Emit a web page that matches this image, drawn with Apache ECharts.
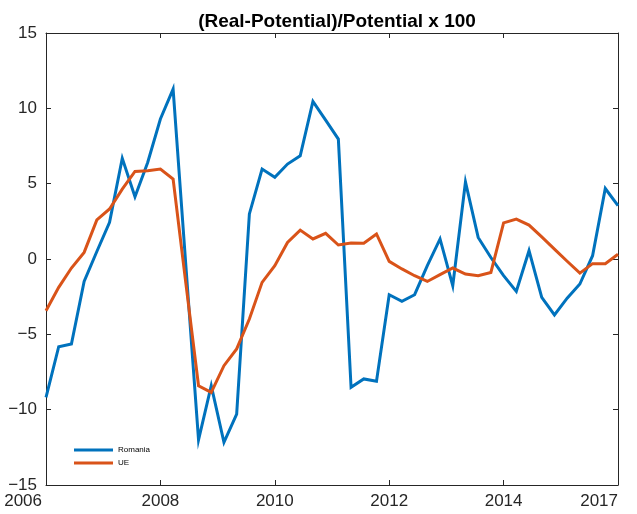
<!DOCTYPE html>
<html>
<head>
<meta charset="utf-8">
<script src="https://cdn.jsdelivr.net/npm/echarts@6/dist/echarts.min.js"></script>
<style>
  html, body { margin: 0; padding: 0; background: #fff; }
  #chart { width: 637px; height: 514px; }
</style>
</head>
<body>
<div id="chart"></div>
<script>
// Quarterly output gap, index 0 = first quarter of 2006
const romania = [
  -9.18, -5.82, -5.64, -1.49, 0.5, 2.43, 6.68, 4.13, 6.41, 9.29,
  11.28, -0.4, -12.01, -8.41, -12.17, -10.29, 2.99, 5.97, 5.42, 6.30,
  6.85, 10.46, 9.22, 7.96, -8.52, -7.96, -8.12, -2.37, -2.81, -2.37,
  -0.44, 1.33, -1.77, 5.11, 1.43, 0.1, -1.1, -2.15, 0.55, -2.55,
  -3.71, -2.6, -1.66, 0.22, 4.68, 3.54
];
const ue = [
  -3.43, -1.88, -0.6, 0.44, 2.59, 3.32, 4.64, 5.81, 5.86, 5.97,
  5.31, -1.6, -8.41, -8.85, -7.08, -5.97, -3.98, -1.55, -0.44, 1.1,
  1.92, 1.33, 1.7, 0.93, 1.06, 1.04, 1.66, -0.16, -0.66, -1.11,
  -1.49, -1.04, -0.6, -1.0, -1.11, -0.89, 2.4, 2.65, 2.25, 1.47,
  0.66, -0.15, -0.94, -0.31, -0.31, 0.31
];
// Year labels shown at every ninth quarter
const tickLabels = ['2006', '2008', '2010', '2012', '2014', '2017'];
const tickStep = 9;

const toPairs = arr => arr.map((v, i) => [i, v]);

const axisColor = '#262626';
const fontFamily = '"Liberation Sans", Arial, sans-serif';

const chart = echarts.init(document.getElementById('chart'), null, { renderer: 'canvas' });
chart.setOption({
  animation: false,
  backgroundColor: '#ffffff',
  title: {
    text: '(Real-Potential)/Potential x 100',
    left: 332,
    textAlign: 'center',
    top: 7,
    textStyle: { fontFamily, fontSize: 19, fontWeight: 'bold', color: '#000' }
  },
  grid: { left: 46, right: 19, top: 33, bottom: 29, containLabel: false },
  legend: {
    orient: 'vertical',
    left: 69,
    top: 440,
    icon: 'rect',
    itemWidth: 39,
    itemHeight: 3,
    itemGap: 3,
    textStyle: { fontFamily, fontSize: 8, lineHeight: 10, color: '#000' },
    data: ['Romania', 'UE']
  },
  xAxis: [
    {
      type: 'value', min: 0, max: 45, interval: tickStep, position: 'bottom',
      axisLine: { show: true, onZero: false, lineStyle: { color: axisColor, width: 1 } },
      axisTick: { show: true, inside: true, length: 5, lineStyle: { color: axisColor } },
      splitLine: { show: false },
      axisLabel: {
        margin: 8, fontFamily, fontSize: 17, color: axisColor,
        alignMinLabel: 'right', alignMaxLabel: 'right',
        formatter: v => {
          const idx = Math.round(v / tickStep);
          return idx === 0 ? '{first|' + tickLabels[0] + '}' : (tickLabels[idx] || '');
        },
        rich: { first: { fontFamily, fontSize: 17, color: axisColor, padding: [0, 4, 0, 0] } }
      }
    },
    {
      type: 'value', min: 0, max: 45, interval: tickStep, position: 'top',
      axisLine: { show: true, onZero: false, lineStyle: { color: axisColor, width: 1 } },
      axisTick: { show: true, inside: true, length: 5, lineStyle: { color: axisColor } },
      splitLine: { show: false },
      axisLabel: { show: false }
    }
  ],
  yAxis: [
    {
      type: 'value', min: -15, max: 15, interval: 5, position: 'left',
      axisLine: { show: true, onZero: false, lineStyle: { color: axisColor, width: 1 } },
      axisTick: { show: true, inside: true, length: 5, lineStyle: { color: axisColor } },
      splitLine: { show: false },
      axisLabel: {
        margin: 9, fontFamily, fontSize: 17, color: axisColor,
        // typographic minus sign for negative ticks
        formatter: v => String(v).replace('-', '\u2212')
      }
    },
    {
      type: 'value', min: -15, max: 15, interval: 5, position: 'right',
      axisLine: { show: true, onZero: false, lineStyle: { color: axisColor, width: 1 } },
      axisTick: { show: true, inside: true, length: 5, lineStyle: { color: axisColor } },
      splitLine: { show: false },
      axisLabel: { show: false }
    }
  ],
  series: [
    {
      name: 'Romania', type: 'line', data: toPairs(romania),
      showSymbol: false, symbol: 'none',
      color: '#0072BD',
      lineStyle: { width: 3, color: '#0072BD', join: 'miter' }
    },
    {
      name: 'UE', type: 'line', data: toPairs(ue),
      showSymbol: false, symbol: 'none',
      color: '#D95319',
      lineStyle: { width: 3, color: '#D95319', join: 'miter' }
    }
  ]
});
</script>
</body>
</html>
